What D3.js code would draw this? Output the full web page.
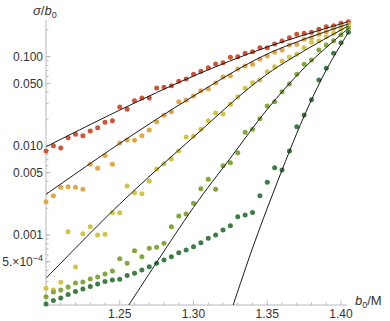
<!DOCTYPE html>
<html><head><meta charset="utf-8">
<script src="https://cdnjs.cloudflare.com/ajax/libs/d3/7.8.5/d3.min.js"></script>
<style>
html,body{margin:0;padding:0;background:#fff;}
svg{display:block;font-family:"Liberation Sans",Arial,sans-serif;}
</style></head>
<body><svg id="c" width="390" height="321"></svg>
<script>
const b0 = [1.200,1.205,1.210,1.215,1.220,1.225,1.230,1.235,1.240,1.245,
            1.250,1.255,1.260,1.265,1.270,1.275,1.280,1.285,1.290,1.295,
            1.300,1.305,1.310,1.315,1.320,1.325,1.330,1.335,1.340,1.345,
            1.350,1.355,1.360,1.365,1.370,1.375,1.380,1.385,1.390,1.395,
            1.400,1.405];
const redVals = [0.00875,0.01004,0.00946,0.01234,0.01348,0.0130,0.01468,0.0160,0.01837,0.01914,
  0.02727,0.02577,0.03209,0.0344,0.0344,0.04456,0.04537,0.0473,0.0530,0.0562,
  0.0635,0.0686,0.0753,0.0828,0.0856,0.0985,0.100,0.109,0.1138,0.1259,
  0.1262,0.1388,0.150,0.1633,0.1784,0.1830,0.1878,0.2029,0.2170,0.2227,
  0.2369,0.2470];
const orangeVals = [0.002363,0.002759,0.003428,0.003482,0.003428,0.003256,0.006209,0.0056,0.0078,0.00621,
  0.01076,0.01163,0.01154,0.0130,0.01506,0.01866,0.02202,0.02416,0.03127,0.03243,
  0.03624,0.04156,0.04342,0.0507,0.0592,0.0612,0.0728,0.0787,0.0822,0.0938,
  0.1018,0.1121,0.1189,0.1353,0.1378,0.1567,0.1633,0.1784,0.1907,0.2083,
  0.2227,0.2327];
const yellowVals = [0.0002524,0.0002415,0.0002946,0.001089,0.0004375,0.001034,0.001239,0.001,0.001018,0.001779,
  0.001779,0.003545,0.002981,0.002905,0.004033,0.0055,0.006307,0.007121,0.00875,0.01257,
  0.0128,0.01533,0.01914,0.02336,0.02277,0.02924,0.0356,0.04419,0.0511,0.0548,
  0.0679,0.0772,0.0895,0.0992,0.1064,0.1262,0.145,0.1512,0.1676,0.1830,
  0.2029,0.2170];
const oliveVals = [0.000203,0.0002294,0.0002415,0.000261,0.0002894,0.000297,0.000321,0.000338,0.000365,0.000395,
  0.000542,0.000482,0.000667,0.000571,0.000709,0.000728,0.000807,0.001239,0.001634,0.001719,
  0.002268,0.003306,0.004216,0.003256,0.005989,0.006471,0.008375,0.01419,0.01533,0.0201,
  0.028,0.0312,0.0405,0.0494,0.0635,0.0822,0.0918,0.1189,0.1353,0.1512,
  0.1766,0.2083];
const greenVals = [0.0001683,0.0001842,0.0001965,0.000215,0.0002324,0.0002479,0.0002643,0.000282,0.0003009,0.0003127,
  0.0003184,0.0003513,0.0003718,0.0004051,0.0004409,0.000482,0.0005244,0.000571,0.000633,0.000679,
  0.000739,0.00082,0.000918,0.001,0.001138,0.001271,0.001604,0.001676,0.001788,0.002759,
  0.0039,0.005687,0.005359,0.00875,0.0164,0.02218,0.03294,0.0548,0.0741,0.109,
  0.1436,0.1878];

const fitRedX = [1.2,1.25,1.3,1.35,1.405];
const fitRedV = [0.00978,0.02518,0.0607,0.1285,0.247];
const fitOrangeX = [1.2,1.25,1.3,1.35,1.405];
const fitOrangeV = [0.00286,0.01065,0.0362,0.1072,0.2327];
const fitYellowX = [1.2,1.25,1.3,1.35,1.405];
const fitYellowV = [0.000327,0.002227,0.01257,0.064,0.221];
const fitOliveX = [1.25,1.3,1.325,1.35,1.375,1.405];
const fitOliveV = [0.0001142,0.00204,0.00729,0.0257,0.0747,0.2083];
const fitGreenX = [1.325,1.34,1.355,1.375,1.39,1.405];
const fitGreenV = [0.0001324,0.000711,0.00328,0.0216,0.071,0.1878];

const seriesColors = ["#cd5538","#e0a847","#d3c445","#84a73d","#3e7d47"];
const xTicks = [1.25,1.30,1.35,1.40];
const xTickLabels = ["1.25","1.30","1.35","1.40"];
const yTicks = [0.1,0.05,0.01,0.005,0.001,0.0005];
const yTickLabels = ["0.100","0.050","0.010","0.005","0.001","5.×10|−4"];

const svg = d3.select("#c");
const L = 46, R = 348.4, T = 20, B = 305;
const x = d3.scaleLinear().domain([1.2,1.405]).range([L,R]);
const y = d3.scaleLog().domain([0.001,0.1]).range([235,56.7]);

svg.append("defs").append("clipPath").attr("id","clip")
  .append("rect").attr("x",L).attr("y",T).attr("width",R-L+2).attr("height",B-T);

const axisCol = "#b8b8b8";
// y axis
const gy = svg.append("g");
gy.append("line").attr("x1",L).attr("x2",L).attr("y1",T).attr("y2",B).attr("stroke",axisCol).attr("stroke-width",1);
const minor = [];
for (let e=-4;e<=-1;e++) for (let k=1;k<=9;k++){ const v=k*Math.pow(10,e); const py=y(v); if(py>=T&&py<=B) minor.push(v);}
gy.selectAll("line.mn").data(minor).enter().append("line")
  .attr("x1",L).attr("x2",L+2.5).attr("y1",d=>y(d)).attr("y2",d=>y(d)).attr("stroke",axisCol);
gy.selectAll("line.mj").data(yTicks).enter().append("line")
  .attr("x1",L).attr("x2",L+4.5).attr("y1",d=>y(d)).attr("y2",d=>y(d)).attr("stroke",axisCol);
yTicks.forEach((v,i)=>{
  const lab = yTickLabels[i];
  const t = gy.append("text").attr("x",43).attr("y",y(v)+4.3).attr("text-anchor","end")
    .attr("font-size",12).attr("fill","#333");
  if (lab.includes("|")) {
    const [a,b] = lab.split("|");
    t.append("tspan").text(a);
    t.append("tspan").attr("dy",-5).attr("font-size",9).text(b);
  } else t.text(lab);
});
// x axis
const gx = svg.append("g");
gx.append("line").attr("x1",L).attr("x2",347).attr("y1",B).attr("y2",B).attr("stroke",axisCol);
const xMinor = [1.21,1.22,1.23,1.24,1.26,1.27,1.28,1.29,1.31,1.32,1.33,1.34,1.36,1.37,1.38,1.39];
gx.selectAll("line.mn").data(xMinor).enter().append("line")
  .attr("x1",d=>x(d)).attr("x2",d=>x(d)).attr("y1",B).attr("y2",B-2.5).attr("stroke",axisCol);
gx.selectAll("line.mj").data(xTicks).enter().append("line")
  .attr("x1",d=>x(d)).attr("x2",d=>x(d)).attr("y1",B).attr("y2",B-4.5).attr("stroke",axisCol);
gx.selectAll("text").data(xTicks).enter().append("text")
  .attr("x",d=>x(d)).attr("y",318).attr("text-anchor","middle").attr("font-size",12).attr("fill","#333")
  .text((d,i)=>xTickLabels[i]);

// axis labels
const yl = svg.append("text").attr("x",33).attr("y",15).attr("font-size",13).attr("fill","#333");
yl.append("tspan").attr("font-style","italic").text("σ");
yl.append("tspan").text("/");
yl.append("tspan").attr("font-style","italic").text("b");
yl.append("tspan").attr("font-size",9).attr("dy",3).text("0");
const xl = svg.append("text").attr("x",355).attr("y",305).attr("font-size",13).attr("fill","#333");
xl.append("tspan").attr("font-style","italic").text("b");
xl.append("tspan").attr("font-size",9).attr("dy",3).text("0");
xl.append("tspan").attr("dy",-3).text("/M");

// points
const allSeries = [redVals, orangeVals, yellowVals, oliveVals, greenVals];
allSeries.forEach((vals,si)=>{
  svg.append("g").selectAll("circle").data(vals).enter().append("circle")
    .attr("cx",(d,i)=>x(b0[i])).attr("cy",d=>y(d)).attr("r",2.5)
    .attr("fill",seriesColors[si]);
});
// fit lines
const fits = [[fitRedX,fitRedV],[fitOrangeX,fitOrangeV],[fitYellowX,fitYellowV],[fitOliveX,fitOliveV],[fitGreenX,fitGreenV]];
const line = d3.line().x(d=>x(d[0])).y(d=>y(d[1])).curve(d3.curveCatmullRom);
const gl = svg.append("g").attr("clip-path","url(#clip)");
fits.forEach(([xs,vs])=>{
  gl.append("path").attr("d",line(xs.map((v,i)=>[v,vs[i]])))
    .attr("fill","none").attr("stroke","#1a1a1a").attr("stroke-width",1);
});
</script></body></html>
